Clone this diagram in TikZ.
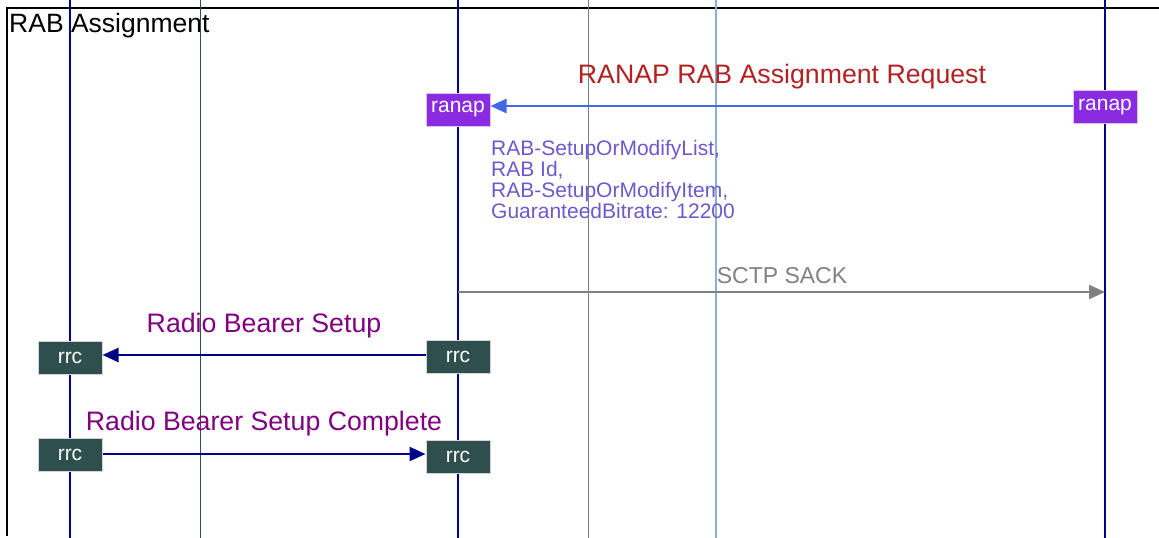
\documentclass[tikz,border=0pt]{standalone}
\usepackage{fontspec}
\setmainfont{Liberation Sans}
\usetikzlibrary{arrows.meta}
\definecolor{ranapfill}{HTML}{8A2BE2}
\definecolor{ranapline}{HTML}{D9C2F5}
\definecolor{rrcfill}{HTML}{2F4F4F}
\definecolor{rrcline}{HTML}{D3D3D3}
\definecolor{ranaparrow}{HTML}{4169E1}
\definecolor{rrcarrow}{HTML}{00008B}
\definecolor{lifenavy}{HTML}{00008B}
\definecolor{lifeslate}{HTML}{2F4F4F}
\definecolor{lifegray}{HTML}{708090}
\definecolor{lifesteel}{HTML}{8DB0D8}
\definecolor{paramtext}{HTML}{6A5ACD}
\definecolor{msgred}{HTML}{B22222}
\definecolor{msgpurple}{HTML}{800080}
\tikzset{
  ranapbox/.style={draw=ranapline, fill=ranapfill, text=white, line width=1pt,
    minimum width=64pt, minimum height=33pt, inner sep=0pt, font=\fontsize{21}{21}\selectfont},
  rrcbox/.style={draw=rrcline, fill=rrcfill, text=white, line width=1pt,
    minimum width=64pt, minimum height=33pt, inner sep=0pt, font=\fontsize{21}{21}\selectfont},
  msg/.style={line width=2.5pt, -{Triangle[length=16pt,width=14pt]}},
  msglabel/.style={anchor=base, inner sep=0pt, font=\fontsize{26.7}{26.7}\selectfont}
}
\begin{document}
\begin{tikzpicture}[x=1pt, y=-1pt]
\useasboundingbox (0,0) rectangle (1159,538);
% frame
\draw[line width=2pt] (7,536) -- (7,8) -- (1162,8);
\node[anchor=base west, inner sep=0pt, font=\fontsize{26.5}{26.5}\selectfont] (title) at (9,32) {RAB Assignment};
% lifelines
\foreach \name/\x/\col/\w in {ue/70/lifenavy/2, a/200/lifeslate/1, rnc/458/lifenavy/2,
    b/588/lifegray/1, c/716/lifesteel/1.3, cn/1105/lifenavy/2} {
  \coordinate (\name top) at (\x,0);
  \coordinate (\name bot) at (\x,538);
  \draw[color=\col, line width=\w pt] (\name top) -- (\name bot);
}
% RANAP RAB Assignment Request
\node[ranapbox] (ranapR) at (1105,107) {ranap};
\node[ranapbox] (ranapL) at (458,109.5) {ranap};
\draw[msg, ranaparrow] (ranapR.west |- 0,106) -- (ranapL.east |- 0,106);
\node[msglabel, msgred] (reqlabel) at (782,83) {RANAP RAB Assignment Request};
\node[anchor=north west, inner sep=0pt, align=left, text=paramtext,
  font=\fontsize{21}{21}\selectfont] (params) at (491,140)
  {RAB-SetupOrModifyList,\\RAB Id,\\RAB-SetupOrModifyItem,\\GuaranteedBitrate: 12200};
% SCTP SACK
\coordinate (sackA) at (458,292);
\coordinate (sackB) at (1105,292);
\draw[msg, gray] (sackA) -- (sackB);
\node[anchor=base, inner sep=0pt, text=gray, font=\fontsize{23}{23}\selectfont] (sacklabel) at (782,283) {SCTP SACK};
% Radio Bearer Setup
\node[rrcbox] (rrcR1) at (458,356.5) {rrc};
\node[rrcbox] (rrcL1) at (70,358) {rrc};
\draw[msg, rrcarrow] (rrcR1.west |- 0,355) -- (rrcL1.east |- 0,355);
\node[msglabel, msgpurple] (setuplabel) at (264,332) {Radio Bearer Setup};
% Radio Bearer Setup Complete
\node[rrcbox] (rrcL2) at (70,455) {rrc};
\node[rrcbox] (rrcR2) at (458,457) {rrc};
\draw[msg, rrcarrow] (rrcL2.east |- 0,454) -- (rrcR2.west |- 0,454);
\node[msglabel, msgpurple] (completelabel) at (264,430) {Radio Bearer Setup Complete};
\end{tikzpicture}
\end{document}
